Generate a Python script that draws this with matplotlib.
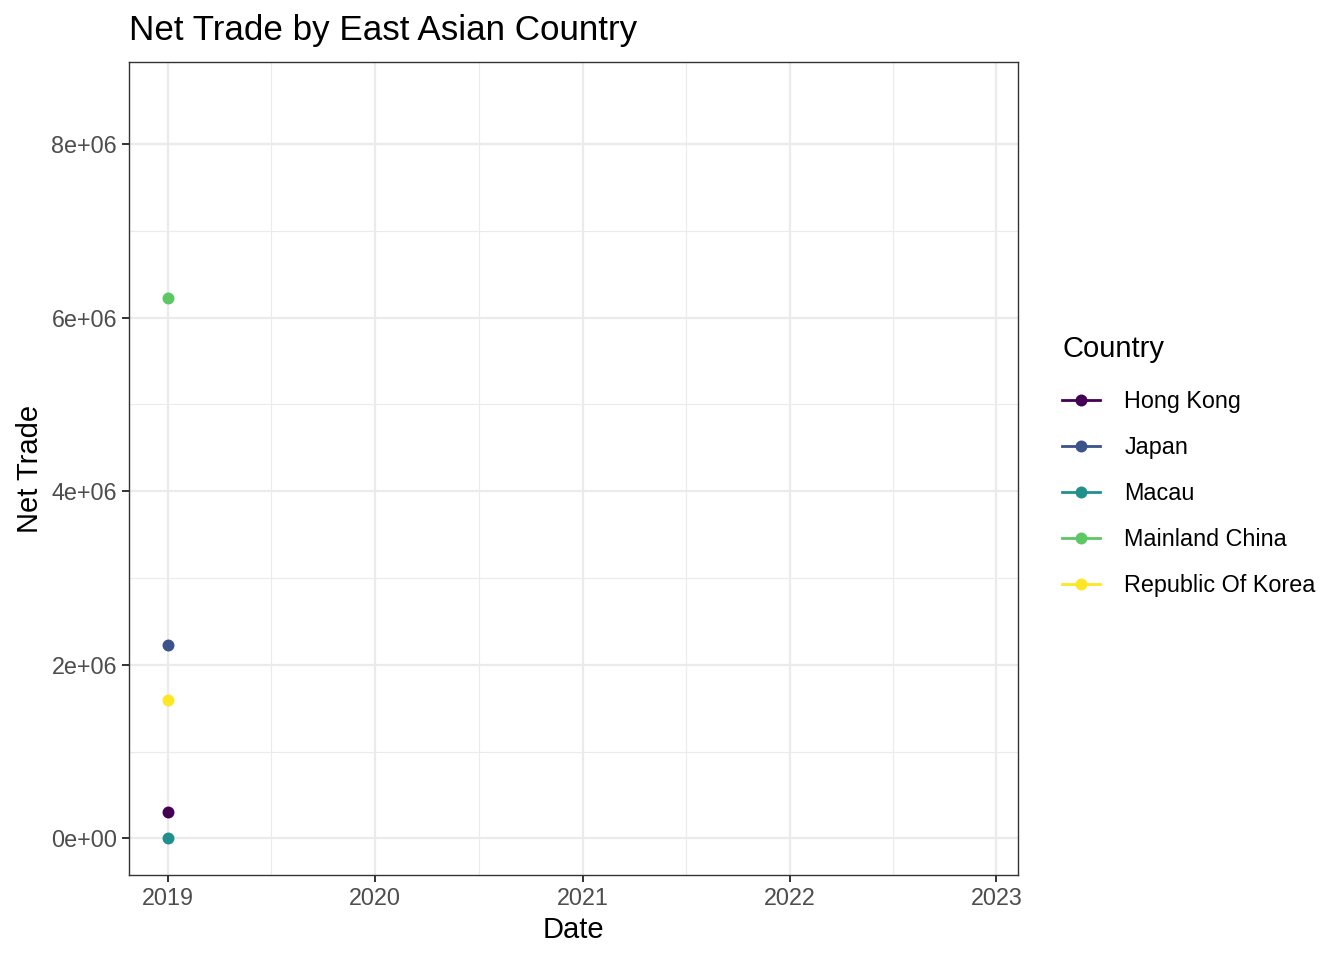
import matplotlib
matplotlib.use("Agg")
import matplotlib.pyplot as plt
import matplotlib.dates as mdates
import pandas as pd

plt.rcParams['font.family'] = ['Liberation Sans', 'DejaVu Sans']

# Data
countries = ["Hong Kong", "Japan", "Macau", "Mainland China", "Republic Of Korea"]
dates = pd.to_datetime(["2019-01-01"] * 5)
net_trade = [0.30e6, 2.227e6, 0.0, 6.222e6, 1.594e6]
colors = ["#440154", "#3B528B", "#21908C", "#5DC863", "#FDE725"]

y_ticks = [0, 2e6, 4e6, 6e6, 8e6]
y_tick_labels = ["0e+00", "2e+06", "4e+06", "6e+06", "8e+06"]
y_minor = [1e6, 3e6, 5e6, 7e6]

# Figure
fig = plt.figure(figsize=(13.44, 9.6), dpi=100)
ax = fig.add_axes([129 / 1344, 1 - 875 / 960, (1018 - 129) / 1344, (875 - 62) / 960])

grid_col = "#EBEBEB"
ax.set_axisbelow(True)

for c, d, v, col in zip(countries, dates, net_trade, colors):
    ax.plot([d], [v], color=col, marker='o', markersize=8.6, linewidth=2.0,
            markeredgewidth=0, label=c, zorder=3)

# Axes limits (ggplot style expansion)
ax.set_xlim(pd.Timestamp("2018-10-24"), pd.Timestamp("2023-02-08"))
ax.set_ylim(-0.423e6, 8.945e6)

ax.xaxis.set_major_locator(mdates.YearLocator())
ax.xaxis.set_major_formatter(mdates.DateFormatter("%Y"))
ax.xaxis.set_minor_locator(mdates.YearLocator(month=7, day=2))
ax.set_yticks(y_ticks)
ax.set_yticklabels(y_tick_labels)
ax.set_yticks(y_minor, minor=True)

ax.grid(True, which='major', color=grid_col, linewidth=1.6)
ax.grid(True, which='minor', color=grid_col, linewidth=0.8)

ax.tick_params(which='major', length=5.2, width=1.4, color="#333333",
               labelsize=16.8, labelcolor="#4D4D4D", pad=3.5)
ax.tick_params(which='minor', length=0)

for s in ax.spines.values():
    s.set_color("#333333")
    s.set_linewidth(1.0)

ax.set_xlabel("Date", fontsize=21, labelpad=4)
ax.set_ylabel("Net Trade", fontsize=21, labelpad=4.7)
ax.set_title("Net Trade by East Asian Country", fontsize=25.2, loc='left', pad=15.6)

leg = ax.legend(title="Country", loc='upper left', bbox_to_anchor=(1053 / 1344, 1 - 326 / 960),
                bbox_transform=fig.transFigure, frameon=False, fontsize=16.8,
                title_fontsize=21, handlelength=1.6, handletextpad=1.05,
                labelspacing=0.99, borderaxespad=0)
leg._legend_box.align = "left"
leg._legend_box.sep = 19

fig.savefig("out.png", dpi=100)
